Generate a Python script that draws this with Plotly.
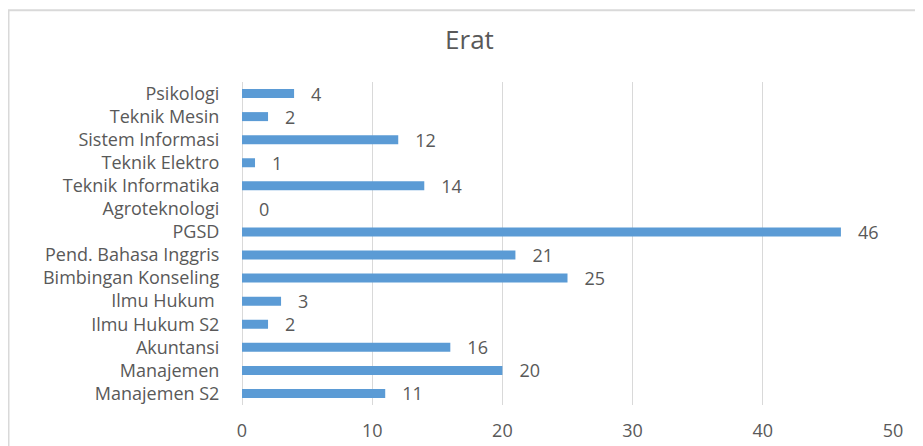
import plotly.graph_objects as go

categories = ["Psikologi", "Teknik Mesin", "Sistem Informasi", "Teknik Elektro",
              "Teknik Informatika", "Agroteknologi", "PGSD", "Pend. Bahasa Inggris",
              "Bimbingan Konseling", "Ilmu Hukum ", "Ilmu Hukum S2", "Akuntansi",
              "Manajemen", "Manajemen S2"]
values = [4, 2, 12, 1, 14, 0, 46, 21, 25, 3, 2, 16, 20, 11]
x_ticks = [0, 10, 20, 30, 40, 50]
title_text = "Erat"

FONT = "Open Sans"
TXT = "#595959"
GRID = "#D9D9D9"

fig = go.Figure(go.Bar(
    x=values, y=categories, orientation="h",
    marker=dict(color="#5B9BD5", line=dict(width=0)),
    texttemplate="   %{x}", textposition="outside", cliponaxis=False,
    constraintext="none",
    textfont=dict(family=FONT, size=18, color=TXT),
))

fig.update_layout(
    width=923, height=446,
    margin=dict(l=234, r=38, t=74, b=49),
    paper_bgcolor="white", plot_bgcolor="white",
    bargap=0.61,
    showlegend=False,
    title=dict(text=title_text, x=0.5, xref="container", xanchor="center",
               y=0.928, yref="container", yanchor="middle",
               font=dict(family=FONT, size=26, color=TXT)),
    xaxis=dict(range=[0, 50], tickvals=x_ticks, showgrid=True, gridcolor=GRID,
               gridwidth=1, zeroline=True, zerolinecolor=GRID, zerolinewidth=1,
               showline=False, ticks="outside", ticklen=9, tickcolor="rgba(0,0,0,0)",
               tickfont=dict(family=FONT, size=18, color=TXT)),
    yaxis=dict(autorange="reversed", showgrid=False, showline=False,
               ticks="outside", ticklen=18, tickcolor="rgba(0,0,0,0)",
               tickfont=dict(family=FONT, size=18, color=TXT)),
    shapes=[
        dict(type="line", xref="paper", yref="paper", x0=-0.36, x1=1.2,
             y0=1.2222, y1=1.2222, line=dict(color=GRID, width=2)),
        dict(type="line", xref="paper", yref="paper", x0=-0.3587, x1=-0.3587,
             y0=1.2222, y1=-0.3, line=dict(color=GRID, width=2)),
    ],
)

fig.write_html("out.html")
